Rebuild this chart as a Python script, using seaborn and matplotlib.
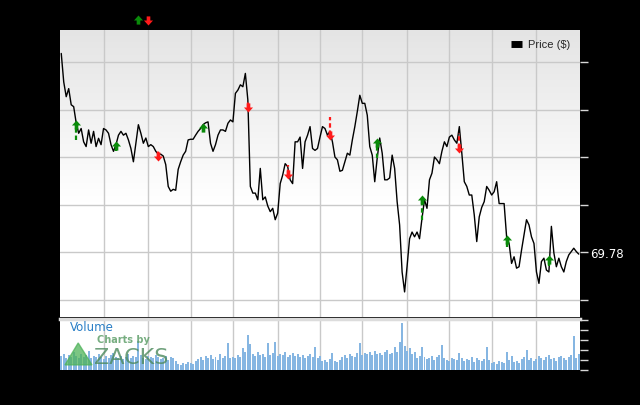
"""Price and volume chart with buy/sell arrows, drawn in the Zacks style."""

from __future__ import annotations

import matplotlib

matplotlib.use("Agg")
import matplotlib.pyplot as plt
import numpy as np
import pandas as pd
import seaborn as sns
from matplotlib.lines import Line2D
from matplotlib.patches import Polygon
from matplotlib.transforms import blended_transform_factory


# daily closing price ($)
PRICE = [
    90.9, 87.9, 86.35, 87.2, 85.5, 85.3, 83.6, 82.5, 83.0, 81.6, 81.1, 82.85, 81.45,
    82.7, 81.1, 81.97, 81.3, 83.0, 82.85, 82.5, 81.3, 80.6, 81.3, 82.3, 82.7, 82.3,
    82.5, 81.8, 80.9, 79.5, 81.45, 83.4, 82.5, 81.45, 82.0, 81.1, 81.3, 81.1, 80.6,
    80.3, 80.3, 80.1, 79.2, 76.9, 76.4, 76.6, 76.5, 78.7, 79.5, 80.2, 80.6,
    81.8, 81.87, 81.87, 82.3, 82.7, 83.0, 83.4, 83.6, 83.7, 81.45, 80.6, 81.3, 82.3,
    82.85, 82.85, 82.7, 83.55, 83.9, 83.7, 86.7, 87.05, 87.6, 87.4, 88.8, 86.0, 76.9,
    76.2, 76.2, 75.5, 78.8, 75.5, 75.8, 74.85, 74.25, 74.6, 73.4, 74.1, 77.2, 78.1,
    79.3, 79.0, 77.6, 77.2, 81.6, 81.6, 82.1, 78.8, 81.6, 82.3, 83.2, 80.9, 80.7,
    80.9, 82.1, 83.2, 83.0, 82.3, 82.7, 81.6, 80.0, 79.7, 78.5, 78.6, 79.5, 80.4,
    80.2, 81.8, 83.2, 84.8, 86.5, 85.65, 85.65, 84.4, 81.1, 80.2, 77.4, 79.9, 82.0,
    80.4, 77.6, 77.6, 77.8, 80.2, 78.8, 75.3, 72.85, 67.9, 65.8, 68.5, 71.4, 72.1,
    71.6, 72.1, 71.4, 73.55, 75.5, 74.6, 77.6, 78.3, 80.0, 79.7, 79.3, 80.6, 81.6,
    81.1, 82.1, 82.3, 81.8, 81.45, 83.2, 80.4, 77.4, 76.9, 76.0, 76.0, 73.9, 71.1,
    73.7, 74.7, 75.3, 76.9, 76.5, 76.0, 76.35, 77.4, 75.1, 75.1, 75.1, 71.6, 70.9,
    68.8, 69.5, 68.3, 68.45, 70.2, 71.8, 73.4, 72.85, 71.6, 70.9, 67.9, 66.7, 69.0,
    69.35, 68.1, 67.9, 72.7, 69.9, 68.45, 69.35, 68.45, 67.9, 69.0, 69.7, 70.05,
    70.4, 70.05, 69.78,
]

# daily volume (millions), estimated from the lower panel
VOLUME = [
    1.4, 1.6, 1.2, 1.5, 1.3, 1.8, 1.4, 1.2, 1.6, 1.3, 1.5, 1.9, 1.2, 1.4, 1.3, 1.6,
    1.3, 1.1, 1.4, 1.2, 1.5, 1.7, 1.3, 1.2, 1.4, 1.1, 1.3, 1.6, 1.2, 1.4, 1.3, 2.9,
    1.5, 1.2, 1.1, 1.4, 1.3, 1.2, 1.5, 1.3, 1.1, 1.2, 1.4, 1.0, 1.3, 1.2, 0.9,
    0.6, 0.5, 0.7, 0.6, 0.8, 0.7, 0.6, 0.9,
    1.1, 1.3, 1.0, 1.4, 1.2, 1.5, 1.1, 1.3, 1.0, 1.6, 1.2, 1.4, 2.7, 1.2, 1.3,
    1.2, 1.5, 1.3, 2.2, 1.8, 3.5, 2.6,
    1.6, 1.4, 1.8, 1.5, 1.6, 1.3, 2.7, 1.5, 1.7, 2.8, 1.4, 1.6, 1.5, 1.8, 1.3, 1.5,
    1.7, 1.4, 1.6, 1.3, 1.5, 1.2, 1.4, 1.6, 1.3, 2.3, 1.2, 1.4,
    0.9, 1.0, 0.8, 1.1, 1.7, 0.9, 0.8, 1.0, 1.3, 1.5, 1.2, 1.6, 1.4, 1.3, 1.7,
    2.7,
    1.5, 1.7, 1.6, 1.8, 1.5, 1.9, 1.6, 1.7, 1.5, 1.8, 2.0, 1.6, 1.7, 2.3, 1.8, 2.8,
    4.7,
    2.4, 1.9, 2.2, 1.6, 1.8,
    1.2, 1.4, 2.3, 1.3, 1.1, 1.2, 1.4, 1.0, 1.3, 1.5, 2.5, 1.2,
    1.0, 0.9, 1.2, 1.1, 1.0, 1.7, 1.2, 0.9, 1.1, 1.0, 1.3, 0.8, 1.2, 1.0, 0.9, 1.1,
    2.3, 1.0,
    0.7, 0.8, 0.6, 0.9, 0.8, 0.7, 1.8, 1.0, 1.4, 0.8, 0.9, 0.7,
    1.1, 1.3, 2.0, 1.0, 1.2, 0.9, 1.1, 1.4, 1.2, 1.0, 1.3, 1.5, 1.1, 1.2, 0.9, 1.3,
    1.4, 1.2, 1.0, 1.3, 1.5, 3.4, 1.2, 1.6,
]

GRID_DAYS = [17, 35, 52, 69, 87, 104, 121, 139, 156, 173, 191]
PRICE_TICKS = [65, 70, 75, 80, 85, 90]
VOLUME_TICKS = [0, 1, 2, 3, 4, 5]

# rating changes: arrow position and the end of its dashed tail
BUY_DAYS = [6, 22, 57, 127, 145, 179, 196]
BUY_PRICES = [83.4, 81.2, 83.1, 81.5, 75.5, 71.3, 69.2]
BUY_TAILS = [81.8, 80.6, 83.1, 79.9, 73.4, 70.5, 68.5]
SELL_DAYS = [39, 75, 91, 108, 160]
SELL_PRICES = [80.1, 85.3, 78.2, 82.3, 80.9]
SELL_TAILS = [80.6, 86.0, 79.2, 84.2, 82.5]

LAST_LABEL = "69.78"

GREEN = "#0a8a0a"
RED = "#ff1a1a"
UP_ARROW = [(-1, 0), (0, 1.1), (1, 0), (0.4, 0), (0.4, -0.9), (-0.4, -0.9), (-0.4, 0)]
DOWN_ARROW = [(x, -y) for x, y in UP_ARROW]


def gradient_background(ax) -> None:
    rows = np.linspace(0, 1, 256)
    shade = np.clip(1 - rows / 0.6, 0, 1)[:, None]
    top = np.array([0.895, 0.895, 0.895])
    img = (1 - shade)[..., None] * np.ones(3) + shade[..., None] * top
    ax.imshow(img, extent=(0, 1, 0, 1), transform=ax.transAxes,
              aspect="auto", zorder=0, interpolation="bilinear")


def plot_price(ax, df: pd.DataFrame) -> None:
    gradient_background(ax)
    sns.lineplot(data=df, x="day", y="price", color="black", linewidth=1.0,
                 ax=ax, zorder=3, legend=False)

    ax.vlines(BUY_DAYS, BUY_TAILS, BUY_PRICES, colors=GREEN, linestyles=(0, (2, 1.3)),
              linewidth=1.6, zorder=4)
    ax.vlines(SELL_DAYS, SELL_PRICES, SELL_TAILS, colors=RED, linestyles=(0, (2, 1.3)),
              linewidth=1.6, zorder=4)
    ax.scatter(BUY_DAYS, BUY_PRICES, marker=UP_ARROW, s=52, color=GREEN,
               linewidths=0, zorder=5)
    ax.scatter(SELL_DAYS, SELL_PRICES, marker=DOWN_ARROW, s=52, color=RED,
               linewidths=0, zorder=5)

    # key arrows above the plot
    ax.scatter([0.15], [1.035], marker=UP_ARROW, s=52, color=GREEN, linewidths=0,
               transform=ax.transAxes, clip_on=False)
    ax.scatter([0.169], [1.035], marker=DOWN_ARROW, s=52, color=RED, linewidths=0,
               transform=ax.transAxes, clip_on=False)

    ax.set_xlim(-0.5, len(PRICE) - 0.5)
    ax.set_ylim(63.16, 93.37)
    ax.set_xticks(GRID_DAYS)
    ax.set_yticks(PRICE_TICKS)
    ax.yaxis.tick_right()
    ax.tick_params(axis="x", length=0, labelbottom=False)
    ax.tick_params(axis="y", length=6, width=1, color="#d8d8d8", labelright=False)
    ax.grid(color="#c9c9c9", linewidth=1.0)
    ax.set_axisbelow(False)
    for line in ax.get_xgridlines() + ax.get_ygridlines():
        line.set_zorder(1)
    for spine in ax.spines.values():
        spine.set_visible(False)
    ax.set_xlabel("")
    ax.set_ylabel("")

    trans = blended_transform_factory(ax.transAxes, ax.transData)
    ax.text(1.019, PRICE[-1], LAST_LABEL, transform=trans, color="white",
            fontsize=8.5, va="center", ha="left")

    handle = Line2D([], [], color="black", linewidth=5, solid_capstyle="butt")
    ax.legend([handle], ["Price ($)"], loc="upper right", frameon=False,
              handlelength=1.0, handletextpad=0.5,
              prop={"family": "Liberation Sans", "size": 8})


def plot_volume(ax, df: pd.DataFrame) -> None:
    ax.set_facecolor("white")
    ax.bar(df["day"], df["volume"], width=0.8, color="#86b6e2", linewidth=0, zorder=2)
    ax.set_xlim(-0.5, len(VOLUME) - 0.5)
    ax.set_ylim(0, 5.1)
    ax.set_xticks(GRID_DAYS)
    ax.set_yticks(VOLUME_TICKS)
    ax.yaxis.tick_right()
    ax.tick_params(axis="x", length=0, labelbottom=False)
    ax.tick_params(axis="y", length=6, width=1, color="#d8d8d8", labelright=False)
    ax.grid(axis="x", color="#c9c9c9", linewidth=1.0, zorder=1)
    ax.grid(axis="y", visible=False)
    for name, spine in ax.spines.items():
        spine.set_visible(name == "top")
    ax.spines["top"].set_color("#dcdcdc")
    ax.spines["top"].set_linewidth(2.5)
    ax.set_xlabel("")
    ax.set_ylabel("")

    ax.text(0.019, 0.96, "Volume", transform=ax.transAxes, color="#2a7fc6",
            fontsize=8.5, va="top", ha="left", zorder=6)
    ax.add_patch(Polygon([(0.0096, 0.1), (0.035, 0.53), (0.0615, 0.1)],
                         closed=True, transform=ax.transAxes, color="#4fb35a",
                         alpha=0.75, zorder=6))
    ax.text(0.071, 0.69, "Charts by", transform=ax.transAxes, color="#5f9f6a",
            fontsize=7, fontweight="bold", va="top", ha="left", alpha=0.85, zorder=6)
    ax.text(0.066, 0.03, "ZACKS", transform=ax.transAxes, color="#4c8a5c",
            fontsize=16, va="bottom", ha="left", alpha=0.8, zorder=6)


def main() -> None:
    sns.set_style("white")
    plt.rcParams["font.family"] = ["DejaVu Sans"]

    df = pd.DataFrame({"day": np.arange(len(PRICE)), "price": PRICE, "volume": VOLUME})

    fig = plt.figure(figsize=(6.4, 4.05), dpi=100, facecolor="black")
    ax_price = fig.add_axes([60 / 640, 1 - 317 / 405, 520 / 640, 287 / 405])
    ax_vol = fig.add_axes([60 / 640, 1 - 370 / 405, 520 / 640, 51 / 405])

    plot_price(ax_price, df)
    plot_volume(ax_vol, df)

    fig.savefig("out.png", dpi=100, facecolor="black")
    plt.close(fig)


if __name__ == "__main__":
    main()
